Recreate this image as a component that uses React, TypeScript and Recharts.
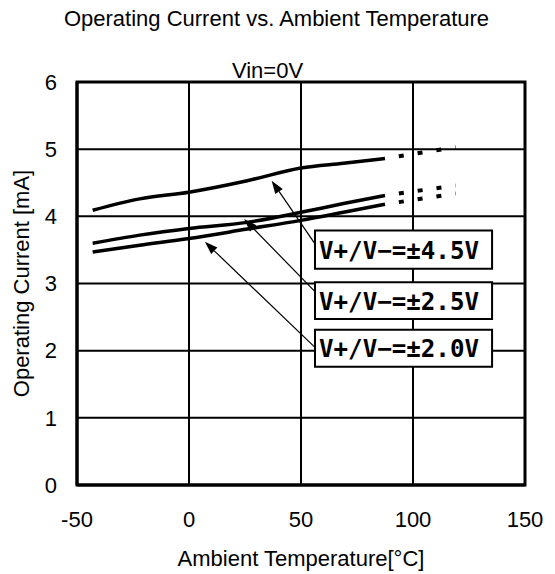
import {
  LineChart,
  Line,
  XAxis,
  YAxis,
  CartesianGrid,
  ReferenceArea,
  ReferenceLine,
} from "recharts"

// measured temperatures (°C) and operating current (mA)
const temps = [-43, -22, 0, 26, 50, 69, 87.5]
const i45 = [4.09, 4.26, 4.36, 4.53, 4.72, 4.79, 4.86]
const i25 = [3.6, 3.72, 3.82, 3.91, 4.06, 4.19, 4.31]
const i20 = [3.47, 3.57, 3.67, 3.81, 3.94, 4.06, 4.18]

// dotted extrapolation
const extTemps = [87.5, 119]
const ext45 = [4.86, 5.03]
const ext25 = [4.31, 4.46]
const ext20 = [4.18, 4.34]

const xTicks = [-50, 0, 50, 100, 150]
const yTicks = [0, 1, 2, 3, 4, 5, 6]

// annotation boxes: label, [t1, t2], [i1, i2]
const boxLabels = ["V+/V−=±4.5V", "V+/V−=±2.5V", "V+/V−=±2.0V"]
const boxT = [56.25, 135.3]
const boxI = [
  [3.22, 3.79],
  [2.47, 3.02],
  [1.76, 2.31],
]
// arrows: tail -> head
const arrowTail = [
  [56.25, 3.59],
  [56.25, 2.88],
  [56.25, 2.05],
]
const arrowHead = [
  [36.9, 4.53],
  [24.6, 3.96],
  [7.1, 3.62],
]

const FONT = "'Liberation Sans', Arial, sans-serif"
const FS = 22

const toData = (ts: number[], vs: number[]) => ts.map((t, k) => ({ t, v: vs[k] }))

const ArrowShape = (props: any) => {
  const { x1, y1, x2, y2 } = props
  if ([x1, y1, x2, y2].some((v) => v == null || isNaN(v))) return null
  const ang = Math.atan2(y2 - y1, x2 - x1)
  const len = 13
  const w = 4.5
  const bx = x2 - len * Math.cos(ang)
  const by = y2 - len * Math.sin(ang)
  const px = -Math.sin(ang) * w
  const py = Math.cos(ang) * w
  return (
    <g>
      <line x1={x1} y1={y1} x2={bx} y2={by} stroke="#000" strokeWidth={1.2} />
      <polygon points={`${x2},${y2} ${bx + px},${by + py} ${bx - px},${by - py}`} fill="#000" />
    </g>
  )
}

const BoxText = (props: any) => {
  const { viewBox, text } = props
  if (!viewBox) return null
  return (
    <text
      x={viewBox.x + 4}
      y={viewBox.y + viewBox.height / 2 + 9}
      fontFamily="'DejaVu Sans Mono', monospace"
      fontWeight="bold"
      fontSize={24}
      textLength={160}
      lengthAdjust="spacingAndGlyphs"
      fill="#000"
    >
      {text}
    </text>
  )
}

export default function App() {
  const series = [
    { solid: toData(temps, i45), ext: toData(extTemps, ext45) },
    { solid: toData(temps, i25), ext: toData(extTemps, ext25) },
    { solid: toData(temps, i20), ext: toData(extTemps, ext20) },
  ]

  return (
    <div style={{ position: "relative", width: 547, height: 566, fontFamily: FONT }}>
      <div
        style={{
          position: "absolute",
          left: 268.5,
          top: 0,
          transform: "translateX(-50%)",
          whiteSpace: "nowrap",
          fontSize: FS,
          lineHeight: 1,
          color: "#000",
        }}
      >
        Operating Current vs. Ambient Temperature
      </div>
      <div
        style={{
          position: "absolute",
          left: 259.5,
          top: 52,
          transform: "translateX(-50%)",
          whiteSpace: "nowrap",
          fontSize: FS,
          lineHeight: 1,
          color: "#000",
        }}
      >
        Vin=0V
      </div>
      <LineChart
        width={547}
        height={566}
        margin={{ top: 74, right: 30, bottom: 0, left: 0 }}
        style={{ fontFamily: FONT }}
      >
        <CartesianGrid stroke="#000" strokeWidth={2} />
        <XAxis
          dataKey="t"
          type="number"
          domain={[-50, 150]}
          ticks={xTicks}
          allowDataOverflow
          height={89}
          tickLine={false}
          tickSize={0}
          tickMargin={26}
          axisLine={{ stroke: "#000", strokeWidth: 3 }}
          tick={{ fill: "#000", fontSize: FS }}
          label={{
            value: "Ambient Temperature[°C]",
            position: "insideBottom",
            offset: 8,
            fill: "#000",
            fontSize: FS,
          }}
        />
        <YAxis
          type="number"
          domain={[0, 6]}
          ticks={yTicks}
          allowDataOverflow
          width={69}
          tickLine={false}
          tickSize={0}
          tickMargin={20}
          axisLine={{ stroke: "#000", strokeWidth: 3 }}
          tick={{ fill: "#000", fontSize: FS }}
          label={{
            value: "Operating Current [mA]",
            angle: -90,
            position: "insideLeft",
            offset: 13,
            fill: "#000",
            fontSize: FS,
            style: { textAnchor: "middle" },
          }}
        />
        <ReferenceArea
          x1={-50}
          x2={150}
          y1={0}
          y2={6}
          fill="none"
          stroke="#000"
          strokeWidth={3}
          ifOverflow="visible"
        />
        {series.map((s, k) => (
          <Line
            key={`s${k}`}
            data={s.solid}
            dataKey="v"
            type="monotone"
            stroke="#000"
            strokeWidth={3.5}
            dot={false}
            isAnimationActive={false}
          />
        ))}
        {series.map((s, k) => (
          <Line
            key={`e${k}`}
            data={s.ext}
            dataKey="v"
            type="linear"
            stroke="#000"
            strokeWidth={4}
            strokeDasharray="5 14"
            strokeDashoffset={5}
            dot={false}
            isAnimationActive={false}
          />
        ))}
        {boxLabels.map((lab, k) => (
          <ReferenceArea
            key={`b${k}`}
            x1={boxT[0]}
            x2={boxT[1]}
            y1={boxI[k][0]}
            y2={boxI[k][1]}
            fill="#fff"
            fillOpacity={1}
            stroke="#000"
            strokeWidth={2}
            ifOverflow="visible"
            label={<BoxText text={lab} />}
          />
        ))}
        {arrowTail.map((tail, k) => (
          <ReferenceLine
            key={`a${k}`}
            segment={[
              { x: tail[0], y: tail[1] },
              { x: arrowHead[k][0], y: arrowHead[k][1] },
            ]}
            ifOverflow="visible"
            shape={ArrowShape}
          />
        ))}
      </LineChart>
    </div>
  )
}
